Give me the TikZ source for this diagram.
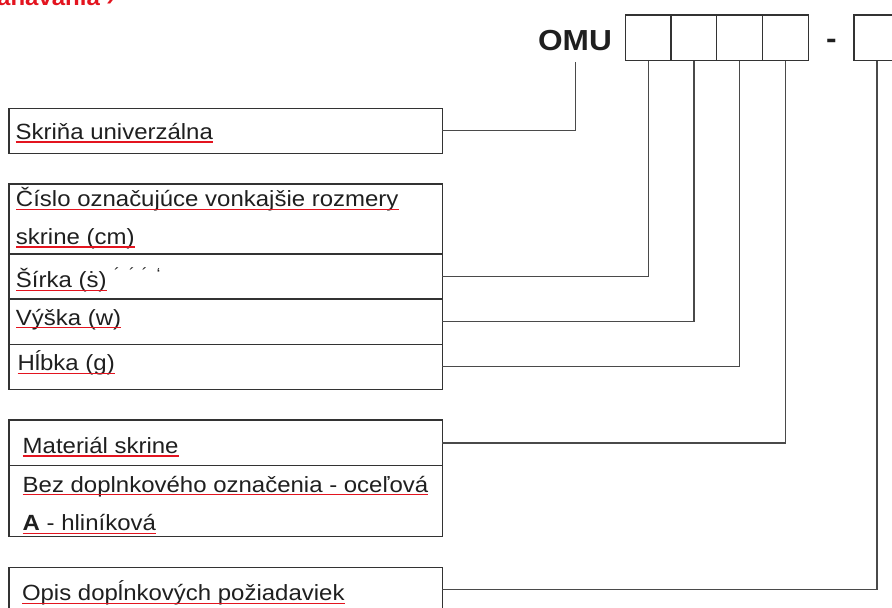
\documentclass[tikz,border=0pt]{standalone}
\usepackage{fontspec}
\setmainfont{Liberation Sans}[FakeStretch=1.09]
\definecolor{txtc}{HTML}{1F1F1F}
\definecolor{linec}{HTML}{333333}
\definecolor{connc}{HTML}{4A4A4A}
\definecolor{redc}{HTML}{E3141F}
\begin{document}
\begin{tikzpicture}[x=1pt,y=-1pt,
  rowbox/.style={draw=linec, line width=1.3pt, rectangle, inner sep=0pt, outer sep=0pt,
    anchor=north west, minimum width=433.3pt},
  cellbox/.style={draw=linec, line width=1.3pt, rectangle, inner sep=0pt, outer sep=0pt,
    anchor=north west, minimum width=45.7pt, minimum height=45.7pt},
  lbl/.style={anchor=base west, inner sep=0pt, outer sep=0pt, text=txtc,
    font=\fontsize{22}{26}\selectfont},
  conn/.style={draw=connc, line width=1.3pt},
  uline/.style={draw=redc, line width=1.3pt},
  big/.style={anchor=base, inner sep=0pt, outer sep=0pt, text=txtc,
    font=\fontsize{29}{33}\selectfont\bfseries}
]
\useasboundingbox (0,0) rectangle (892,608);

% red title, cut off at the top edge as in the reference
\node[anchor=base west, inner sep=0pt, text=redc, font=\fontsize{22}{26}\selectfont\bfseries]
  (title) at (-3,5) {anavania ›};

% code header
\node[big] (omu) at (575,50) {OMU};
\node[cellbox] (cA) at (625.3,15) {};
\node[cellbox] (cB) at (671,15) {};
\node[cellbox] (cC) at (716.7,15) {};
\node[cellbox] (cD) at (762.5,15) {};
\node[big] (dash) at (831.5,48.5) {-};
\node[cellbox] (cE) at (854,15) {};
\coordinate (omuc) at (575.7,61.5);

% left boxes
\node[rowbox, minimum height=45pt] (skr) at (9,108.3) {};
\node[rowbox, minimum height=70pt] (cis) at (9,184) {};
\node[rowbox, minimum height=45pt] (sir) at (9,254) {};
\node[rowbox, minimum height=45.3pt] (vys) at (9,299) {};
\node[rowbox, minimum height=45pt] (hlb) at (9,344.3) {};
\node[rowbox, minimum height=45.7pt] (mat) at (9,420) {};
\node[rowbox, minimum height=71pt] (bez) at (9,465.7) {};
\node[rowbox, minimum height=44pt] (opis) at (9,567.3) {};

% labels
\node[lbl] (t1) at (15.7,139.3) {Skriňa univerzálna};
\node[lbl] (t2) at (16,206.7) {Číslo označujúce vonkajšie rozmery\ };
\node[lbl] (t3) at (16,244.3) {skrine (cm)};
\node[lbl] (t4) at (16,287.7) {Šírka (\ooalign{s\cr\hidewidth\char"02D9\hidewidth\cr})};
\node[anchor=base west, inner sep=0pt, text=txtc, font=\fontsize{16}{18}\selectfont]
  (t4x) at (114,279) {´\hspace{9pt}´\hspace{7pt}´\hspace{9pt}\symbol{"60}};
\node[lbl] (t5) at (16,325) {Výška (w)};
\node[lbl] (t6) at (17.5,370.7) {Hĺbka (g)};
\node[lbl] (t7) at (22.7,453.3) {Materiál skrine};
\node[lbl] (t8) at (22.7,492) {Bez doplnkového označenia - oceľová\ };
\node[lbl] (t9) at (22.7,530.7) {\textbf{A} - hliníková};
\node[lbl] (t10) at (22,600.7) {Opis dopĺnkových požiadaviek};

% red underlines
\foreach \t in {t1,t2,t3,t4,t5,t6,t7,t8,t9,t10}
  \draw[uline] ([yshift=-2.6pt]\t.base west) -- ([yshift=-2.6pt]\t.base east);

% connectors
\draw[conn] (skr.east) -| (omuc);
\draw[conn] (sir.east) -| (cA.south);
\draw[conn] (vys.east) -| (cB.south);
\draw[conn] (hlb.east) -| (cC.south);
\draw[conn] (mat.east) -| (cD.south);
\draw[conn] (opis.east) -| (cE.south);
\end{tikzpicture}
\end{document}
